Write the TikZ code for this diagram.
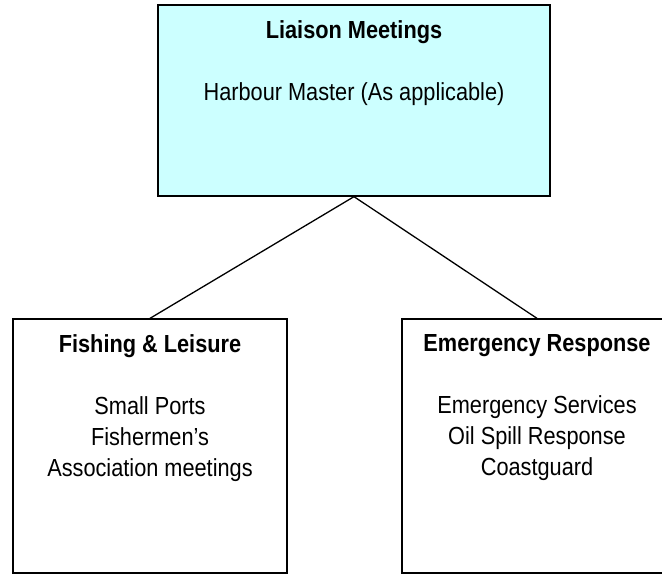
\documentclass[tikz,border=0pt]{standalone}
\usepackage{tikz}
\usepackage{xcolor}
\usepackage{fontspec}
\setmainfont[FakeStretch=0.88]{Liberation Sans}
\usetikzlibrary{positioning}
\definecolor{liaisoncyan}{RGB}{204,255,255}

\begin{document}
\begin{tikzpicture}[x=1pt,y=-1pt,
    box/.style={draw,line width=1.3pt,inner sep=0pt},
    boxtext/.style={align=center,inner sep=0pt,font=\fontsize{24.7}{31}\selectfont},
    connector/.style={line width=1.3pt}]
    \useasboundingbox (0,0) rectangle (662,574);

    \node[box,fill=liaisoncyan,minimum width=392pt,minimum height=191pt] (liaison) at (354,100.5) {};
    \node[box,minimum width=274pt,minimum height=254pt] (fishing) at (150,446) {};
    \node[box,minimum width=270pt,minimum height=254pt] (emergency) at (537,446) {};

    \node[boxtext,below=16pt of liaison.north] (liaisontext) {\textbf{Liaison Meetings}\\[\baselineskip]Harbour Master (As applicable)};
    \node[boxtext,below=16pt of fishing.north] (fishingtext) {\textbf{Fishing \& Leisure}\\[\baselineskip]Small Ports\\Fishermen’s\\Association meetings};
    \node[boxtext,below=16pt of emergency.north] (emergencytext) {\textbf{Emergency Response}\\[\baselineskip]Emergency Services\\Oil Spill Response\\Coastguard};

    \draw[connector] (liaison.south) -- (fishing.north);
    \draw[connector] (liaison.south) -- (emergency.north);
\end{tikzpicture}
\end{document}
